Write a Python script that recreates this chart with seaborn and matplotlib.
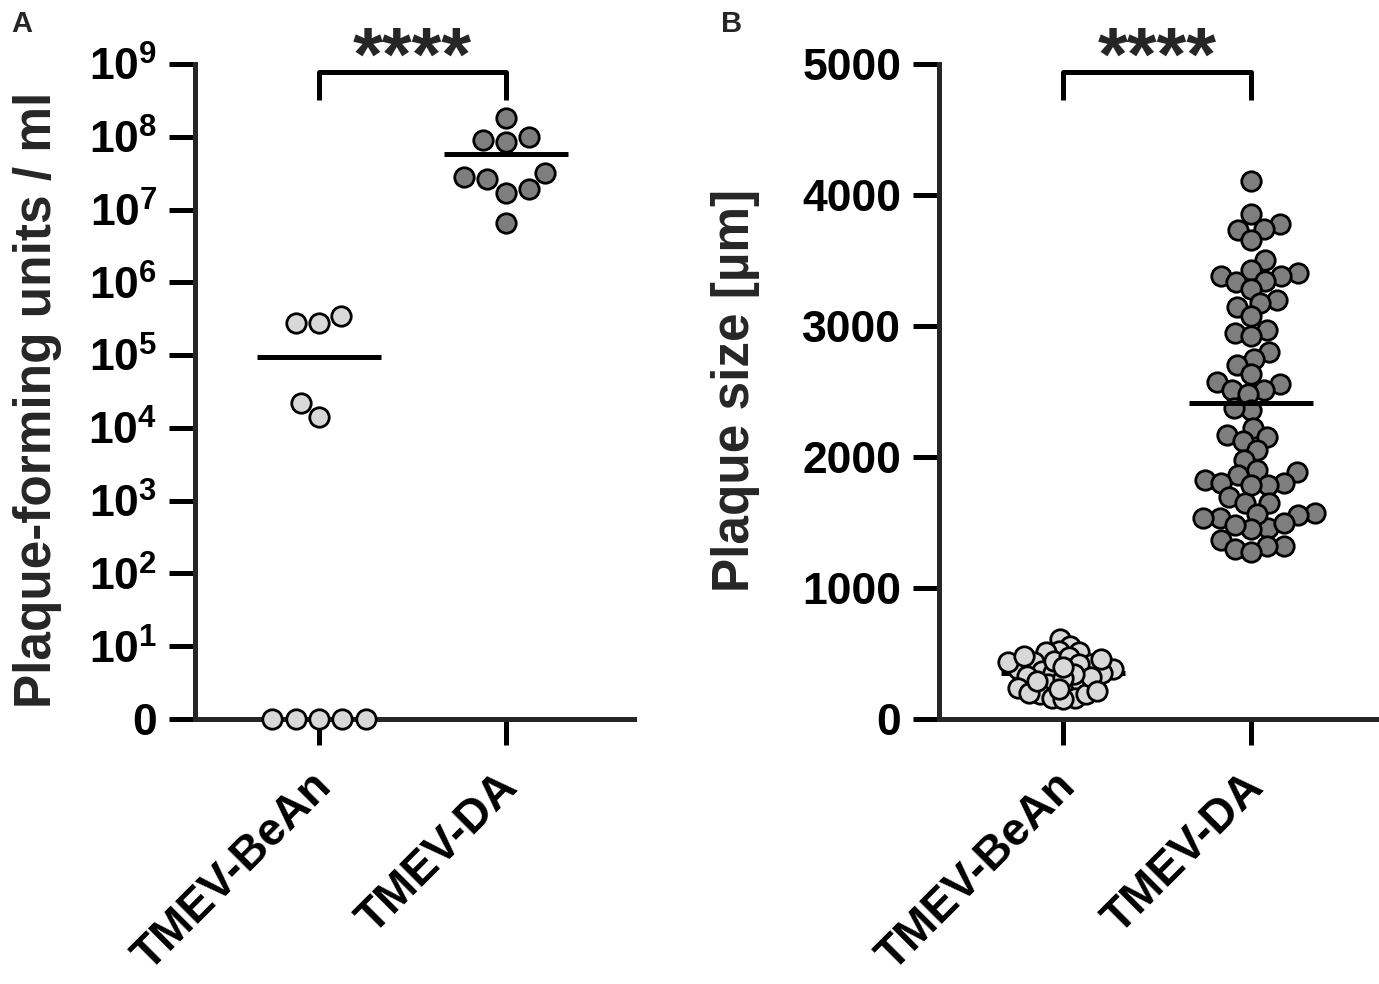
import numpy as np
import pandas as pd
import matplotlib
matplotlib.use("Agg")
import matplotlib.pyplot as plt
import matplotlib.transforms as mtransforms
import seaborn as sns

groups = ["TMEV-BeAn", "TMEV-DA"]

# panel A: virus titre (plaque-forming units / ml), 0 = below detection
bean_pfu = [0, 0, 0, 0, 0, 2.8e5, 3.4e5, 2.8e5, 2.2e4, 1.4e4]
da_pfu = [1.8e8, 9.1e7, 8.5e7, 9.8e7, 2.8e7, 3.2e7, 2.6e7, 1.9e7, 1.7e7, 6.5e6]

# panel B: plaque size in µm
bean_size = [611, 560, 521, 509, 509, 432, 419, 368, 355, 381, 381, 330, 355, 432,
             245, 266, 271, 240, 189, 164, 164, 151, 189, 202, 445, 458, 470, 419,
             317, 343, 290, 310, 395, 480, 230, 210]
da_size = [4105, 3857, 3776, 3730, 3737, 3658, 3500, 3402, 3385, 3428,
           3385, 3333, 3346, 3282, 3200, 3175, 3142, 3073, 2970, 2950,
           2924, 2801, 2750, 2699, 2630, 2571, 2554, 2515, 2515, 2482,
           2362, 2375, 2221, 2150, 2170, 2124, 2055, 1979, 1884, 1902,
           1805, 1825, 1864, 1787, 1787, 1800, 1692, 1646, 1575, 1646,
           1557, 1455, 1493, 1531, 1531, 1564, 1450, 1480, 1370, 1294,
           1319, 1319, 1275]

a_ticks = ["0"] + [r"$\mathbf{10^{%d}}$" % i for i in range(1, 10)]
b_ticks = [0, 1000, 2000, 3000, 4000, 5000]

colors = {"TMEV-BeAn": "#d8d8d8", "TMEV-DA": "#7e7e7e"}

sns.set_style("ticks")
plt.rcParams["font.family"] = ["Liberation Sans", "DejaVu Sans"]
plt.rcParams["font.weight"] = "bold"
plt.rcParams["mathtext.fontset"] = "custom"
plt.rcParams["mathtext.rm"] = "Liberation Sans:bold"
plt.rcParams["mathtext.bf"] = "Liberation Sans:bold"

df_a = pd.DataFrame({"virus": [groups[0]] * len(bean_pfu) + [groups[1]] * len(da_pfu),
                     "pfu": bean_pfu + da_pfu})
df_a["log_pfu"] = np.log10(df_a["pfu"].clip(lower=1))

df_b = pd.DataFrame({"virus": [groups[0]] * len(bean_size) + [groups[1]] * len(da_size),
                     "size": bean_size + da_size})

fig = plt.figure(figsize=(13.79, 9.84), dpi=100)
ax_a = fig.add_axes([0.1414, 0.2693, 0.3183, 0.6657])
ax_b = fig.add_axes([0.6809, 0.2693, 0.3191, 0.6657])

MS = 14
EW = 2
LW = 3.6


def swarm(ax, data, y, group, layout_size):
    # GraphPad lets the dots overlap: lay the swarm out with smaller dots,
    # freeze the positions, then blow the dots up to the real size
    n0 = len(ax.collections)
    sns.swarmplot(data=data[data.virus == group], x="virus", y=y, order=groups,
                  color=colors[group], size=layout_size, edgecolor="black",
                  linewidth=EW, ax=ax, zorder=3)
    return ax.collections[n0:]


def freeze(dots):
    for c in dots:
        if "draw" in c.__dict__:
            del c.draw
        c.set_sizes([MS ** 2])
        c.set_clip_on(False)


def style_axis(ax):
    sns.despine(ax=ax)
    for s in ["left", "bottom"]:
        ax.spines[s].set_linewidth(LW)
    ax.tick_params(length=19, width=LW, pad=8, labelsize=32, colors="black")
    ax.set_xlabel("")
    ax.set_xticks([0, 1])
    ax.set_xticklabels(groups, fontsize=33, fontweight="bold")
    shift = mtransforms.ScaledTranslation(-0.10, -0.08, fig.dpi_scale_trans)
    for lab in ax.get_xticklabels():
        lab.set_rotation(45)
        lab.set_ha("right")
        lab.set_va("top")
        lab.set_rotation_mode("anchor")
        lab.set_transform(lab.get_transform() + shift)


# ---- panel A ----
ax_a.set_ylim(0, 9)
ax_a.set_xlim(-0.663, 1.684)
dots = swarm(ax_a, df_a, "log_pfu", groups[0], MS) + swarm(ax_a, df_a, "log_pfu", groups[1], MS)
ax_a.set_ylim(0, 9)
ax_a.set_xlim(-0.663, 1.684)

# ---- panel B ----
ax_b.set_ylim(0, 5000)
ax_b.set_xlim(-0.66, 1.68)
dots_b = swarm(ax_b, df_b, "size", groups[1], 9.5) + swarm(ax_b, df_b, "size", groups[0], 6)
ax_b.set_ylim(0, 5000)
ax_b.set_xlim(-0.66, 1.68)

fig.canvas.draw()
freeze(dots)
freeze(dots_b)

ax_a.set_yticks(range(10))
ax_a.set_yticklabels(a_ticks)
style_axis(ax_a)
for i, g in enumerate(groups):
    m = np.log10(df_a.loc[df_a.virus == g, "pfu"].mean())
    ax_a.hlines(m, i - 0.33, i + 0.33, color="black", lw=LW, zorder=4)
ax_a.set_ylabel("Plaque-forming units / ml", fontsize=37, fontweight="bold")
ax_a.yaxis.set_label_coords(-0.303, 0.487)
ax_a.plot([0, 0, 1, 1], [8.50, 8.89, 8.89, 8.50], color="black", lw=LW,
          clip_on=False, solid_capstyle="butt")
ax_a.text(0.5, 8.78, "****", ha="center", va="baseline", fontsize=55,
          fontweight="bold")

ax_b.set_yticks(b_ticks)
style_axis(ax_b)
for i, g in enumerate(groups):
    m = df_b.loc[df_b.virus == g, "size"].mean()
    # the BeAn mean is buried in the dense cluster
    ax_b.hlines(m, i - 0.33, i + 0.33, color="black", lw=LW, zorder=4 if i else 2)
ax_b.set_ylabel("Plaque size [µm]", fontsize=37, fontweight="bold")
ax_b.yaxis.set_label_coords(-0.407, 0.502)
ax_b.plot([0, 0, 1, 1], [4725, 4939, 4939, 4725], color="black", lw=LW,
          clip_on=False, solid_capstyle="butt")
ax_b.text(0.5, 4878, "****", ha="center", va="baseline", fontsize=55,
          fontweight="bold")

fig.text(0.008, 0.99, "A", fontsize=21, fontweight="bold", va="top")
fig.text(0.523, 0.99, "B", fontsize=21, fontweight="bold", va="top")

fig.savefig("out.png", dpi=100, facecolor="white")
